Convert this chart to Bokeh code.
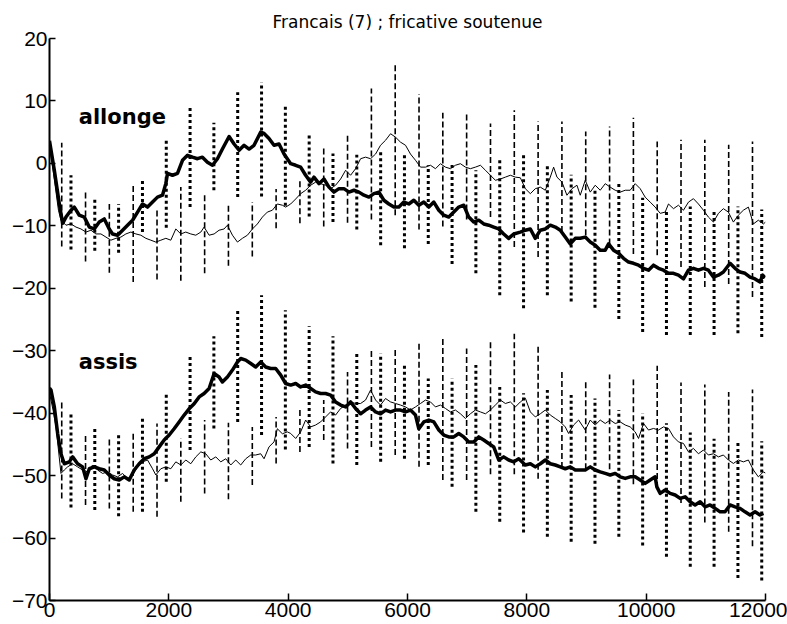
from bokeh.plotting import figure
from bokeh.models import Range1d, ColumnDataSource, Label, FixedTicker
from bokeh.embed import file_html
from bokeh.resources import INLINE

# ---------------- data (frequency in Hz, level in dB) ----------------
x_ticks = [0, 2000, 4000, 6000, 8000, 10000, 12000]
y_ticks = [-70, -60, -50, -40, -30, -20, -10, 0, 10, 20]

allonge_thick = [(0, 3.6), (81, -1.1), (165, -6.5), (220, -9.6), (276, -8.6), (360, -7.5), (416, -7.0), (499, -8.3), (583, -8.6), (667, -10.2), (750, -10.5), (834, -9.4), (918, -8.9), (1001, -10.5), (1057, -11.3), (1141, -11.5), (1225, -10.7), (1308, -9.9), (1392, -9.1), (1476, -7.8), (1559, -6.5), (1643, -7.0), (1727, -6.2), (1810, -5.4), (1894, -5.1), (1950, -3.2), (1978, -1.6), (2061, -1.9), (2145, -1.6), (2229, 0.5), (2313, 1.3), (2396, 1.0), (2480, 0.75), (2563, 1.0), (2647, 0.2), (2731, -0.3), (2815, 0.75), (2898, 2.3), (3010, 4.3), (3094, 3.1), (3177, 2.1), (3261, 2.9), (3345, 2.3), (3428, 2.9), (3540, 5.0), (3596, 4.8), (3679, 4.0), (3763, 2.9), (3847, 3.1), (3931, 1.5), (4042, -0.05), (4126, -0.3), (4209, -0.6), (4293, -1.9), (4377, -3.0), (4432, -2.2), (4517, -3.25), (4600, -2.5), (4684, -3.8), (4767, -4.6), (4851, -4.05), (4935, -4.05), (5019, -4.6), (5102, -4.3), (5186, -4.6), (5270, -5.1), (5353, -5.4), (5437, -4.85), (5521, -4.6), (5604, -5.9), (5688, -6.5), (5772, -7.0), (5855, -7.0), (5939, -6.2), (6022, -6.5), (6106, -5.9), (6190, -6.7), (6273, -6.2), (6357, -7.0), (6441, -6.2), (6525, -7.5), (6608, -8.3), (6692, -8.6), (6776, -7.8), (6859, -7.0), (6943, -6.7), (7027, -8.6), (7110, -9.4), (7194, -9.1), (7278, -9.7), (7361, -9.9), (7445, -10.2), (7529, -10.5), (7612, -11.3), (7696, -12.0), (7780, -11.3), (7891, -11.0), (7975, -10.7), (8059, -10.5), (8142, -12.0), (8226, -10.7), (8310, -10.5), (8393, -9.9), (8477, -10.2), (8561, -10.7), (8644, -11.8), (8728, -12.9), (8812, -12.0), (8895, -12.0), (8979, -11.8), (9063, -12.6), (9146, -13.1), (9230, -13.9), (9314, -13.9), (9370, -12.9), (9453, -13.9), (9537, -14.4), (9621, -15.2), (9705, -15.8), (9788, -16.0), (9872, -16.3), (9956, -16.8), (10039, -17.1), (10123, -16.3), (10207, -16.8), (10290, -17.1), (10374, -17.6), (10458, -17.6), (10541, -17.9), (10625, -18.5), (10709, -17.1), (10792, -16.8), (10876, -17.1), (10960, -16.8), (11043, -17.1), (11127, -18.2), (11211, -17.9), (11294, -17.4), (11406, -16.0), (11490, -16.8), (11573, -17.4), (11657, -17.6), (11741, -18.2), (11825, -18.5), (11908, -19.0), (11953, -17.9), (11995, -18.3)]

allonge_thin = [(0, 3.0), (80, -2.5), (150, -7.5), (192, -9.1), (276, -9.9), (360, -9.7), (444, -10.2), (527, -10.5), (611, -11.0), (695, -10.7), (778, -11.3), (862, -11.3), (946, -11.8), (1029, -12.3), (1113, -12.0), (1197, -11.8), (1280, -11.3), (1364, -11.0), (1448, -11.3), (1531, -11.5), (1615, -12.0), (1699, -12.3), (1782, -12.6), (1866, -12.3), (1950, -12.0), (2033, -12.3), (2117, -10.5), (2201, -11.3), (2284, -11.0), (2368, -11.3), (2452, -11.5), (2536, -11.0), (2591, -10.2), (2675, -11.5), (2759, -11.3), (2842, -10.7), (2926, -10.5), (2982, -9.9), (3066, -11.5), (3150, -12.6), (3233, -12.0), (3317, -11.5), (3401, -10.5), (3484, -9.7), (3568, -8.6), (3651, -7.8), (3735, -7.5), (3819, -6.5), (3903, -6.7), (3958, -7.0), (4042, -6.5), (4126, -5.7), (4209, -4.85), (4293, -4.3), (4377, -3.5), (4460, -3.0), (4544, -3.25), (4628, -3.5), (4711, -4.05), (4795, -3.5), (4879, -2.5), (4963, -1.1), (5046, -1.9), (5130, -0.85), (5214, 0.75), (5297, 1.0), (5381, 0.75), (5465, 1.5), (5548, 2.9), (5632, 3.7), (5716, 4.75), (5799, 4.2), (5883, 3.4), (5967, 2.9), (6050, 1.5), (6134, 0.5), (6218, -0.6), (6301, -0.6), (6385, -0.3), (6469, -0.85), (6552, -0.05), (6636, -0.6), (6720, -0.85), (6803, -0.3), (6887, -0.05), (6971, -0.6), (7054, -0.85), (7138, -0.6), (7222, -0.3), (7306, -1.1), (7389, -1.9), (7473, -2.7), (7557, -2.5), (7640, -2.2), (7724, -1.9), (7808, -2.2), (7891, -2.3), (7975, -4.05), (8059, -4.85), (8142, -4.05), (8226, -3.8), (8310, -4.3), (8393, -2.2), (8449, -0.6), (8505, -2.2), (8589, -3.0), (8672, -5.1), (8756, -4.05), (8840, -3.5), (8895, -5.1), (8979, -2.7), (9063, -4.6), (9146, -3.5), (9230, -4.3), (9314, -3.25), (9397, -3.8), (9481, -4.3), (9565, -4.6), (9649, -4.3), (9732, -4.3), (9816, -3.25), (9900, -4.05), (9983, -5.4), (10067, -6.2), (10151, -7.0), (10235, -8.0), (10318, -7.8), (10374, -6.5), (10458, -7.25), (10541, -6.7), (10625, -7.5), (10709, -6.2), (10792, -5.65), (10876, -6.5), (10960, -7.5), (11043, -8.6), (11127, -9.4), (11211, -8.0), (11294, -7.25), (11378, -7.8), (11462, -9.4), (11545, -8.3), (11629, -7.5), (11713, -7.0), (11797, -9.7), (11880, -9.1), (11964, -9.7), (12000, -9.4)]

assis_thick = [(0, -36.0), (25, -36.3), (81, -39.0), (137, -43.3), (192, -46.5), (248, -48.1), (332, -47.8), (388, -47.0), (471, -48.1), (555, -48.6), (611, -50.5), (667, -48.9), (750, -48.6), (834, -48.9), (918, -49.1), (1001, -49.9), (1085, -50.5), (1169, -50.7), (1252, -50.2), (1336, -50.7), (1420, -49.1), (1503, -48.1), (1587, -47.3), (1671, -47.0), (1755, -46.5), (1838, -45.4), (1922, -44.3), (2006, -43.5), (2089, -42.5), (2173, -41.4), (2257, -40.3), (2340, -39.3), (2424, -38.5), (2508, -37.4), (2591, -36.85), (2675, -36.05), (2759, -33.65), (2842, -34.2), (2898, -35.0), (2982, -34.2), (3066, -33.1), (3150, -31.8), (3205, -31.25), (3289, -31.5), (3373, -32.05), (3456, -32.6), (3540, -31.8), (3623, -32.6), (3707, -32.85), (3791, -32.85), (3875, -33.9), (3958, -35.25), (4042, -35.5), (4126, -35.25), (4209, -35.8), (4293, -35.5), (4377, -36.05), (4460, -36.6), (4544, -36.85), (4628, -36.85), (4711, -37.1), (4795, -38.2), (4879, -38.7), (4963, -39.0), (5046, -38.2), (5130, -39.25), (5214, -40.1), (5297, -39.5), (5381, -39.0), (5465, -39.8), (5548, -40.1), (5632, -39.5), (5716, -39.8), (5799, -39.5), (5883, -39.5), (5967, -39.8), (6050, -39.5), (6134, -40.3), (6190, -42.5), (6273, -41.4), (6357, -41.1), (6441, -41.4), (6525, -42.7), (6608, -43.5), (6692, -43.8), (6776, -43.8), (6859, -43.25), (6943, -43.8), (7027, -44.6), (7110, -44.6), (7194, -43.8), (7278, -44.3), (7361, -44.85), (7445, -45.4), (7529, -47.5), (7612, -47.0), (7696, -47.5), (7780, -47.8), (7864, -47.3), (7975, -48.3), (8059, -48.1), (8142, -48.6), (8226, -48.1), (8310, -47.5), (8393, -48.1), (8477, -48.3), (8561, -48.6), (8644, -48.9), (8728, -48.6), (8812, -49.1), (8895, -49.1), (8979, -49.1), (9063, -48.6), (9146, -49.1), (9230, -49.4), (9314, -49.65), (9397, -49.9), (9481, -49.65), (9565, -50.2), (9649, -50.45), (9732, -50.2), (9816, -50.2), (9900, -50.7), (9983, -51.25), (10067, -50.7), (10151, -50.2), (10179, -51.8), (10235, -52.85), (10318, -52.3), (10402, -52.85), (10486, -53.1), (10569, -53.65), (10653, -53.4), (10737, -54.2), (10820, -54.7), (10904, -54.2), (10988, -55.0), (11071, -54.7), (11155, -55.25), (11239, -55.8), (11322, -55.8), (11406, -54.7), (11490, -55.0), (11573, -55.25), (11657, -55.8), (11741, -56.3), (11825, -55.8), (11908, -56.3), (11964, -56.05)]

assis_thin = [(0, -36.8), (60, -39.5), (109, -42.2), (192, -49.65), (248, -49.1), (304, -48.6), (388, -48.1), (471, -48.6), (555, -49.1), (639, -49.4), (723, -48.3), (806, -49.1), (890, -49.65), (974, -49.4), (1057, -49.9), (1141, -50.2), (1225, -49.65), (1308, -50.5), (1392, -49.9), (1476, -48.6), (1559, -47.8), (1643, -47.5), (1727, -48.9), (1782, -49.9), (1866, -48.9), (1950, -48.6), (2033, -48.9), (2117, -47.8), (2201, -48.3), (2284, -47.5), (2368, -48.1), (2452, -47.0), (2536, -46.2), (2619, -46.5), (2703, -47.5), (2787, -47.0), (2870, -47.8), (2954, -47.3), (3038, -48.3), (3121, -47.5), (3205, -48.3), (3289, -47.3), (3373, -46.7), (3456, -46.7), (3540, -46.5), (3596, -47.3), (3679, -45.4), (3763, -44.6), (3819, -42.5), (3903, -43.3), (3986, -43.0), (4042, -43.25), (4126, -44.05), (4209, -43.0), (4293, -41.1), (4377, -42.2), (4460, -41.9), (4544, -41.4), (4628, -40.6), (4711, -39.8), (4795, -40.3), (4879, -39.25), (4963, -38.7), (5046, -38.2), (5130, -38.45), (5214, -38.45), (5297, -37.9), (5381, -36.3), (5465, -37.9), (5548, -38.7), (5632, -37.65), (5716, -38.2), (5799, -38.45), (5883, -38.7), (5967, -39.0), (6050, -39.5), (6134, -39.0), (6218, -38.45), (6301, -37.9), (6385, -38.2), (6469, -39.0), (6552, -38.7), (6636, -39.25), (6720, -39.8), (6803, -39.5), (6887, -40.1), (6971, -40.85), (7054, -40.1), (7138, -39.5), (7222, -39.8), (7306, -40.1), (7389, -39.5), (7473, -38.7), (7557, -37.9), (7640, -38.45), (7724, -38.2), (7808, -39.0), (7891, -38.2), (7975, -37.6), (8059, -39.8), (8142, -40.6), (8226, -40.1), (8310, -39.5), (8393, -40.3), (8477, -40.85), (8561, -41.4), (8644, -42.2), (8700, -43.25), (8784, -41.9), (8868, -41.1), (8979, -42.7), (9063, -41.1), (9146, -41.9), (9230, -41.1), (9314, -41.65), (9397, -41.1), (9481, -41.65), (9565, -41.4), (9649, -41.9), (9732, -42.2), (9816, -43.0), (9872, -44.05), (9956, -41.65), (10039, -42.7), (10123, -42.45), (10207, -42.7), (10290, -42.2), (10374, -42.45), (10458, -43.8), (10541, -44.6), (10625, -44.85), (10709, -46.2), (10792, -45.65), (10876, -46.5), (10960, -45.9), (11043, -46.7), (11127, -46.5), (11211, -47.0), (11294, -46.7), (11378, -47.5), (11462, -48.05), (11545, -47.5), (11629, -47.8), (11713, -47.5), (11797, -49.1), (11880, -50.2), (11964, -49.4), (12000, -49.6)]

# error-bar frequencies
thin_bar_hz = [205, 604, 1003, 1403, 1802, 2201, 2600, 2999, 3399, 3798, 4197, 4596, 4995, 5395, 5794, 6193, 6592, 6991, 7391, 7790, 8189, 8588, 8987, 9387, 9786, 10185, 10584, 10983, 11383, 11782]
thick_bar_hz = [360, 759, 1158, 1558, 1957, 2356, 2755, 3154, 3554, 3953, 4352, 4751, 5150, 5550, 5949, 6348, 6747, 7146, 7546, 7945, 8344, 8743, 9142, 9542, 9941, 10340, 10739, 11138, 11538, 11937]

allonge_thin_hi = [3.3, -4.6, -6.5, -3.5, -7.5, -3.8, -4.8, -6.5, -6.2, -4.1, -2.4, 2.7, 4.8, 12.0, 15.7, 11.1, 8.1, 8.1, 6.4, 8.5, 6.7, 6.7, 5.1, 5.9, 7.3, 3.5, 3.8, 3.8, 3.0, 3.5]
allonge_thin_lo = [-13.3, -15.7, -17.5, -19.0, -18.6, -18.8, -17.6, -16.4, -14.9, -10.4, -9.6, -10.1, -9.5, -9.0, -8.3, -10.6, -10.1, -9.0, -8.6, -13.4, -15.0, -11.0, -11.5, -13.0, -14.5, -14.7, -16.6, -19.8, -19.3, -21.4]
allonge_thick_hi = [-1.9, -5.4, -6.5, -2.5, 3.7, 8.9, 6.5, 11.4, 13.0, 9.4, 4.6, 1.6, 1.4, 2.1, 1.4, -0.3, 0.0, -1.1, 0.5, 1.4, 0.0, -1.8, -3.9, -3.1, -5.5, -7.4, -6.9, -7.4, -6.9, -7.4]
allonge_thick_lo = [-13.8, -14.0, -14.3, -11.0, -10.3, -7.0, -4.3, -5.4, -5.3, -6.8, -8.5, -9.4, -10.6, -13.1, -13.6, -12.9, -16.1, -17.6, -21.1, -23.2, -21.1, -22.1, -23.1, -24.9, -27.0, -27.5, -27.5, -27.5, -27.2, -27.8]

assis_thin_hi = [-38.2, -43.25, -44.05, -43.0, -41.65, -44.05, -41.1, -41.55, -42.2, -40.6, -39.25, -37.9, -33.4, -29.65, -29.9, -28.6, -27.8, -29.65, -28.3, -27.3, -29.2, -33.2, -35.0, -33.8, -34.6, -32.4, -35.1, -35.4, -36.6, -36.2]
assis_thin_lo = [-53.65, -54.7, -55.25, -55.8, -56.6, -54.2, -52.85, -53.8, -51.5, -48.05, -46.2, -44.3, -45.65, -45.4, -46.7, -48.6, -50.7, -50.7, -49.8, -49.8, -50.5, -48.8, -49.0, -49.0, -51.4, -52.0, -54.4, -57.5, -59.0, -61.3]
assis_thick_hi = [-39.95, -42.45, -43.5, -40.85, -36.85, -30.7, -27.7, -23.25, -21.1, -23.5, -26.1, -27.7, -30.1, -30.45, -32.3, -34.45, -34.45, -32.3, -35.8, -36.8, -36.3, -37.1, -37.65, -39.5, -40.0, -41.6, -43.1, -44.1, -44.3, -44.5]
assis_thick_lo = [-55.1, -55.5, -56.5, -55.8, -51.0, -45.9, -42.45, -41.4, -43.5, -45.8, -45.4, -48.05, -48.3, -47.8, -47.3, -48.3, -51.8, -55.8, -57.4, -59.1, -59.8, -60.6, -60.9, -59.8, -61.2, -63.0, -64.6, -64.6, -66.4, -66.8]

title_text = "Francais (7) ; fricative soutenue"
labels = [("allonge", 490, 7.4), ("assis", 490, -31.8)]

# ---------------- figure ----------------
FONT = "Liberation Sans"
p = figure(width=787, height=624, output_backend="svg", toolbar_location=None,
           x_range=Range1d(0, 12000), y_range=Range1d(-70, 20),
           min_border_left=49, min_border_right=22, min_border_top=38, min_border_bottom=24,
           title=title_text)
p.title.align = "center"
p.title.text_font = "DejaVu Sans"
p.title.text_font_style = "normal"
p.title.text_font_size = "17px"
p.title.text_color = "black"
p.title.standoff = 14
p.title.offset = 0
p.outline_line_color = None
p.xgrid.visible = False
p.ygrid.visible = False
p.background_fill_color = "white"
p.border_fill_color = "white"

p.xaxis.ticker = FixedTicker(ticks=x_ticks)
p.yaxis.ticker = FixedTicker(ticks=y_ticks)
for ax in (p.xaxis, p.yaxis):
    ax.axis_line_width = 2
    ax.axis_line_color = "black"
    ax.major_tick_out = 0
    ax.major_tick_line_width = 1.5
    ax.major_tick_line_color = "black"
    ax.minor_tick_in = 0
    ax.minor_tick_out = 0
    ax.major_label_text_font = FONT
    ax.major_label_text_font_size = "21px"
    ax.major_label_text_color = "black"
    ax.major_label_standoff = 2
p.xaxis.major_tick_in = 7
p.yaxis.major_tick_in = 6


def bars(hz, hi, lo, width, dash):
    src = ColumnDataSource(dict(x=hz, hi=hi, lo=lo))
    p.segment(x0="x", y0="lo", x1="x", y1="hi", source=src, line_color="black",
              line_width=width, line_dash=dash, line_cap="butt")


bars(thin_bar_hz, allonge_thin_hi, allonge_thin_lo, 1.6, "6 3")
bars(thin_bar_hz, assis_thin_hi, assis_thin_lo, 1.6, "6 3")
bars(thick_bar_hz, allonge_thick_hi, allonge_thick_lo, 3, "3 3")
bars(thick_bar_hz, assis_thick_hi, assis_thick_lo, 3, "3 3")


def curve(pts, width):
    xs = [a for a, b in pts]
    ys = [b for a, b in pts]
    p.line(xs, ys, line_color="black", line_width=width, line_join="round")


curve(allonge_thin, 1.0)
curve(assis_thin, 1.0)
curve(allonge_thick, 3.5)
curve(assis_thick, 3.5)

for txt, lx, ly in labels:
    p.add_layout(Label(x=lx, y=ly, text=txt, text_font="DejaVu Sans", text_font_style="bold",
                       text_font_size="21px", text_baseline="alphabetic", text_color="black"))

open("out.html", "w").write(file_html(p, INLINE))
